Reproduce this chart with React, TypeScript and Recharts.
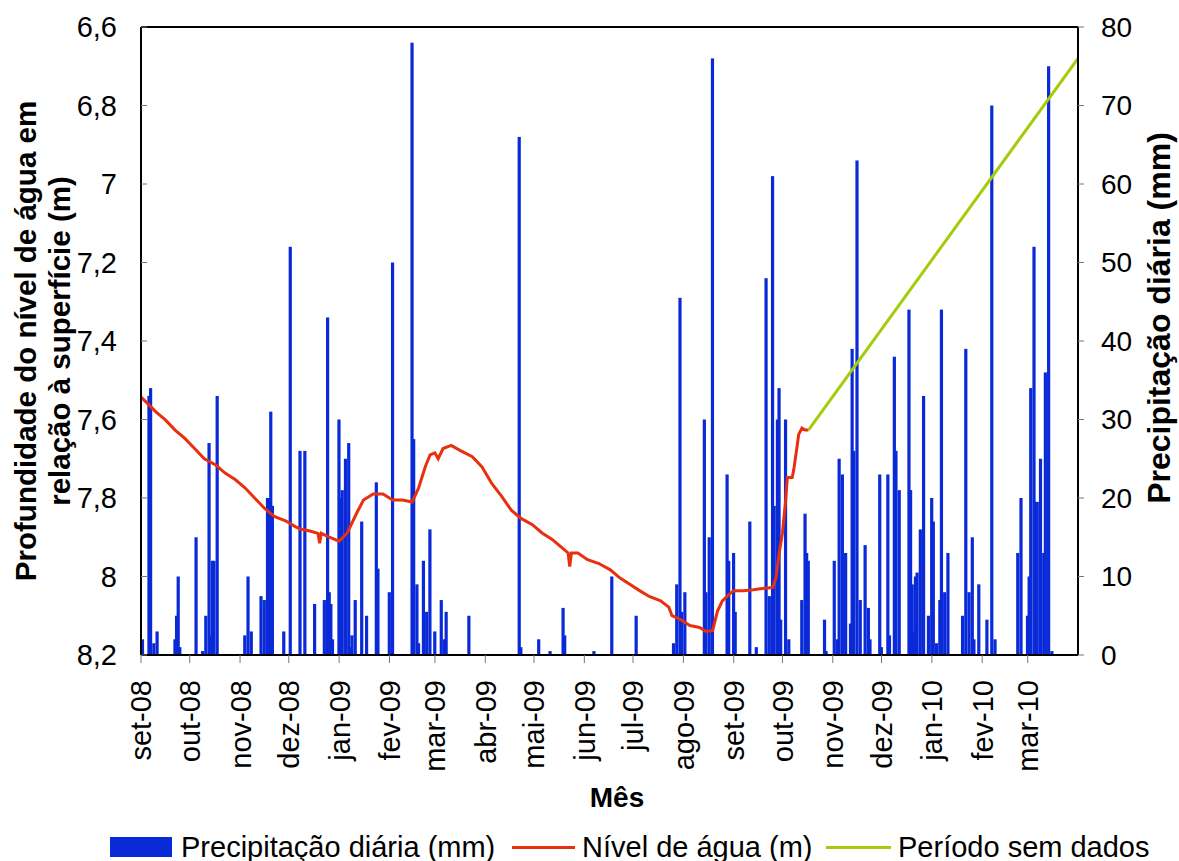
import { ComposedChart, Bar, Line, XAxis, YAxis, ReferenceLine } from "recharts";

const FONT = "'Liberation Sans', Arial, Helvetica, sans-serif";
const BLUE = "#0A2AD8";
const RED = "#E8300E";
const GREEN = "#A4CC0A";

// ---------------------------------------------------
// DATA (dia = dias desde 1 set 2008)
// ---------------------------------------------------
const rainDay = [
  1, 5, 6, 8, 10, 21, 22, 23, 24, 34, 38, 40, 42, 43, 44, 45, 47, 64, 66, 68,
  74, 76, 78, 79, 80, 81, 88, 92, 98, 101, 107, 113, 115, 116, 117, 118, 122,
  123, 124, 126, 128, 129, 130, 132, 136, 139, 145, 146, 153, 155, 167, 168,
  170, 171, 174, 176, 178, 181, 185, 187, 188, 202, 233, 234, 245, 252, 260,
  261, 279, 290, 305, 328, 330, 332, 333, 335, 347, 348, 350, 352, 361, 362,
  365, 366, 375, 379, 385, 387, 389, 390, 392, 393, 394, 397, 399, 407, 409,
  410, 411, 421, 422, 427, 429, 430, 432, 434, 437, 438, 439, 441, 443, 446,
  448, 449, 455, 456, 460, 461, 464, 465, 467, 473, 474, 475, 476, 477, 478,
  480, 482, 485, 487, 488, 490, 492, 493, 495, 497, 506, 508, 510, 512, 513,
  516, 521, 524, 526, 540, 542, 546, 547, 548, 550, 551, 552, 554, 556, 557,
  559, 561,
];
const rainMm = [
  2, 33, 34, 1.5, 3, 2, 5, 10, 1, 15, 0.5, 5, 27, 2.5, 12, 12, 33, 2.5, 10, 3,
  7.5, 7, 20, 20, 31, 19, 3, 52, 26, 26, 6.5, 7, 43, 8, 6.5, 2, 30,
  20, 21, 25, 27, 1, 2.5, 7, 17, 5, 22, 11, 8, 50, 78, 27.5,
  9, 1.5, 12, 5.5, 16, 3, 7, 2, 5.5, 5, 66, 1, 2, 0.5, 6,
  2.5, 0.5, 10, 5, 1.5, 9, 45.5, 5.5, 8, 30, 8, 15, 76, 23, 12,
  13, 5.5, 17, 1, 48, 7.5, 61, 19, 30, 34, 4.5, 30, 2, 7, 18,
  13, 12, 4.5, 0.5, 12, 2, 25, 23, 13, 4, 39, 26, 63, 7, 14,
  6, 2, 23, 1, 23, 2.5, 38, 26, 21, 44, 21, 9, 3, 10, 10.5,
  16, 33, 5, 20, 17, 1.5, 7, 44, 8, 13, 5, 39, 8, 15, 2,
  9, 4.5, 70, 2, 13, 20, 5, 10, 34, 52, 19.5, 19.5, 25, 13, 36,
  75, 0.5,
];

const levelDay = [
  0, 4, 9, 15, 21, 27, 33, 39, 46, 52, 58, 64, 70, 76, 82, 89, 95, 98, 104,
  109, 110, 111, 116, 122, 127, 133, 137, 143, 149, 155, 161, 167, 171, 175,
  178, 181, 183, 186, 191, 197, 204, 210, 216, 222, 228, 234, 241, 247, 253,
  259, 263, 264, 265, 269, 275, 282, 289, 295, 301, 307, 313, 320, 325, 327,
  332, 338, 344, 348, 352, 355, 358, 362, 365, 371, 377, 384, 389, 391, 393,
  395, 397, 398, 401, 402, 404, 405, 407, 409, 411,
];
const levelM = [
  7.543, 7.559, 7.58, 7.601, 7.627, 7.648, 7.674, 7.7, 7.716, 7.737, 7.753,
  7.774, 7.8, 7.826, 7.847, 7.858, 7.873, 7.879, 7.884, 7.89, 7.915, 7.89,
  7.9, 7.91, 7.889, 7.837, 7.805, 7.79, 7.79, 7.805, 7.805, 7.81, 7.774,
  7.721, 7.69, 7.685, 7.7, 7.674, 7.666, 7.68, 7.695, 7.721, 7.763, 7.795,
  7.831, 7.852, 7.868, 7.889, 7.905, 7.926, 7.94, 7.975, 7.94, 7.94, 7.957,
  7.967, 7.983, 8.004, 8.02, 8.036, 8.051, 8.062, 8.078, 8.1, 8.109, 8.125,
  8.13, 8.14, 8.138, 8.088, 8.062, 8.046, 8.036, 8.036, 8.034, 8.03, 8.028,
  8.004, 7.94, 7.889, 7.805, 7.748, 7.748, 7.727, 7.669, 7.638, 7.622,
  7.627, 7.627,
];

// período sem dados
const gapDay = [411, 577];
const gapM = [7.627, 6.68];

const monthDay = [0, 30, 61, 91, 122, 153, 181, 212, 242, 273, 303, 334, 365, 395, 426, 456, 487, 518, 546];
const monthLabel = [
  "set-08", "out-08", "nov-08", "dez-08", "jan-09", "fev-09", "mar-09", "abr-09", "mai-09", "jun-09",
  "jul-09", "ago-09", "set-09", "out-09", "nov-09", "dez-09", "jan-10", "fev-10", "mar-10",
];

const levelTicks = [6.6, 6.8, 7, 7.2, 7.4, 7.6, 7.8, 8, 8.2];
const rainTicks = [0, 10, 20, 30, 40, 50, 60, 70, 80];

// merge into one table by day
const byDay = new Map<number, any>();
const row = (d: number) => {
  if (!byDay.has(d)) byDay.set(d, { day: d });
  return byDay.get(d);
};
rainDay.forEach((d, i) => (row(d).rain = rainMm[i]));
levelDay.forEach((d, i) => (row(d).level = levelM[i]));
gapDay.forEach((d, i) => (row(d).gap = gapM[i]));
const data = [...byDay.values()].sort((a, b) => a.day - b.day);

// ---------------------------------------------------
// CUSTOM SHAPES
// ---------------------------------------------------
function RainBar(props: any) {
  const { x, y, width, height } = props;
  if (!height || height <= 0) return null;
  const cx = x + width / 2;
  return <rect x={cx - 1.6} y={y} width={3.2} height={height} fill={BLUE} />;
}

function MonthTick({ x, y, payload }: any) {
  const i = monthDay.indexOf(payload.value);
  return (
    <g transform={`translate(${x},${y})`}>
      <text
        transform="rotate(-90)"
        x={-3}
        y={0}
        dy="0.36em"
        textAnchor="end"
        fontSize={29}
        fill="#000"
        fontFamily={FONT}
      >
        {monthLabel[i]}
      </text>
    </g>
  );
}

const abs = (left: number, top: number): any => ({
  position: "absolute",
  left,
  top,
  transform: "translate(-50%, -50%)",
  whiteSpace: "nowrap",
});

const legendText = (left: number): any => ({
  position: "absolute",
  left,
  top: 847,
  transform: "translateY(-50%)",
  fontSize: 29,
  lineHeight: "32px",
  whiteSpace: "nowrap",
});

// ---------------------------------------------------
// MAIN COMPONENT
// ---------------------------------------------------
export default function App() {
  return (
    <div
      style={{
        position: "absolute",
        left: 0,
        top: 0,
        width: 1179,
        height: 861,
        background: "#fff",
        fontFamily: FONT,
        color: "#000",
      }}
    >
      <ComposedChart
        width={1179}
        height={861}
        data={data}
        margin={{ top: 27, right: 0, bottom: 56, left: 0 }}
      >
        <Bar
          dataKey="rain"
          yAxisId="rain"
          fill={BLUE}
          shape={<RainBar />}
          isAnimationActive={false}
        />
        <Line
          dataKey="level"
          yAxisId="lvl"
          type="linear"
          stroke={RED}
          strokeWidth={3}
          dot={false}
          connectNulls
          isAnimationActive={false}
        />
        <Line
          dataKey="gap"
          yAxisId="lvl"
          type="linear"
          stroke={GREEN}
          strokeWidth={3}
          dot={false}
          connectNulls
          isAnimationActive={false}
        />

        <XAxis
          dataKey="day"
          type="number"
          domain={[0, 577]}
          ticks={monthDay}
          interval={0}
          height={150}
          allowDataOverflow
          axisLine={{ stroke: "#000", strokeWidth: 2 }}
          tickLine={{ stroke: "#777" }}
          tickSize={8}
          tickMargin={14}
          tick={<MonthTick />}
        />
        <YAxis
          yAxisId="lvl"
          orientation="left"
          reversed
          domain={[6.6, 8.2]}
          ticks={levelTicks}
          interval={0}
          allowDataOverflow
          width={141}
          axisLine={{ stroke: "#000", strokeWidth: 2 }}
          tickLine={{ stroke: "#777" }}
          tickSize={-6}
          tickMargin={30}
          tickFormatter={(v: number) => String(v).replace(".", ",")}
          tick={{ fontSize: 29, fill: "#000", fontFamily: FONT }}
        />
        <YAxis
          yAxisId="rain"
          orientation="right"
          domain={[0, 80]}
          ticks={rainTicks}
          interval={0}
          allowDataOverflow
          width={101}
          axisLine={{ stroke: "#000", strokeWidth: 2 }}
          tickLine={{ stroke: "#777" }}
          tickSize={6}
          tickMargin={17}
          tick={{ fontSize: 28, fill: "#000", fontFamily: FONT }}
        />
        <ReferenceLine y={6.6} yAxisId="lvl" stroke="#000" strokeWidth={2} />
      </ComposedChart>

      {/* axis titles */}
      <div
        style={{
          ...abs(43, 341),
          transform: "translate(-50%, -50%) rotate(-90deg)",
          fontWeight: "bold",
          fontSize: 29.5,
          lineHeight: "34px",
          textAlign: "center",
        }}
      >
        Profundidade do nível de água em
        <br />
        relação à superfície (m)
      </div>
      <div
        style={{
          ...abs(1159, 318),
          transform: "translate(-50%, -50%) rotate(-90deg)",
          fontWeight: "bold",
          fontSize: 32,
        }}
      >
        Precipitação diária (mm)
      </div>
      <div style={{ ...abs(617, 798), fontWeight: "bold", fontSize: 28 }}>Mês</div>

      {/* legend */}
      <div style={{ position: "absolute", left: 110, top: 837, width: 62, height: 20, background: BLUE }} />
      <div style={legendText(181)}>Precipitação diária (mm)</div>
      <div style={{ position: "absolute", left: 512, top: 846, width: 63, height: 3, background: RED }} />
      <div style={legendText(582)}>Nível de água (m)</div>
      <div style={{ position: "absolute", left: 826, top: 846, width: 65, height: 3, background: GREEN }} />
      <div style={legendText(898)}>Período sem dados</div>
    </div>
  );
}
